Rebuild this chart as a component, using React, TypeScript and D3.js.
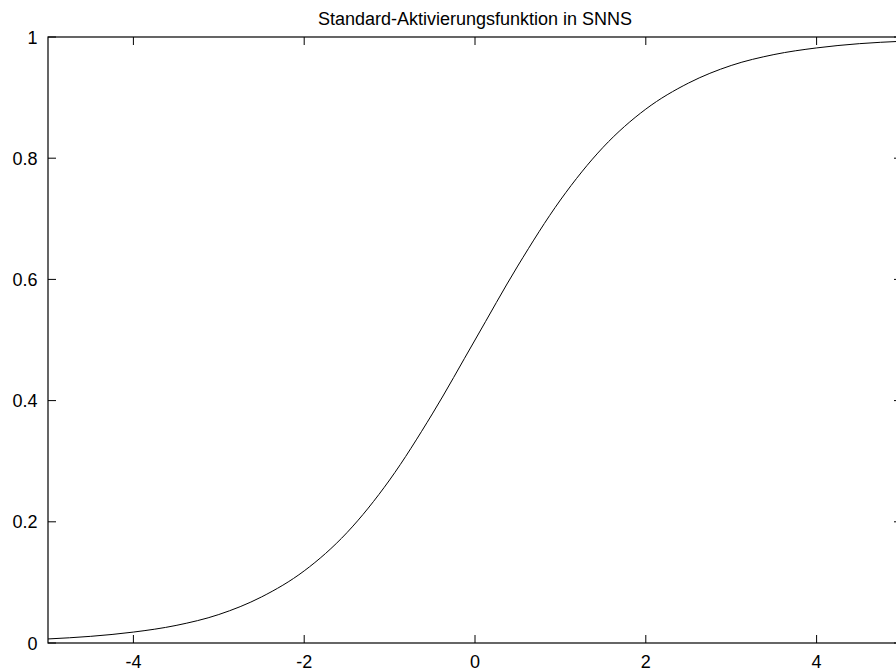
import React from "react";
import * as d3 from "d3";

// Sampled points of the SNNS standard activation (logistic) curve
const xValues = [-5, -4.5, -4, -3.5, -3, -2.5, -2, -1.5, -1, -0.5, 0, 0.5, 1, 1.5, 2, 2.5, 3, 3.5, 4, 4.5, 5];
const yValues = [0.0067, 0.011, 0.018, 0.029, 0.047, 0.076, 0.119, 0.182, 0.269, 0.378, 0.5, 0.622, 0.731, 0.818, 0.881, 0.924, 0.953, 0.971, 0.982, 0.989, 0.993];

const xTicks = [-4, -2, 0, 2, 4];
const yTicks = [0, 0.2, 0.4, 0.6, 0.8, 1];
const yTickLabels = ["0", "0.2", "0.4", "0.6", "0.8", "1"];
const title = "Standard-Aktivierungsfunktion in SNNS";

const W = 896;
const H = 672;
const left = 48;
const right = 902;
const top = 37;
const bottom = 643;
const tickLen = 8;
const font = "'Liberation Sans', Arial, Helvetica, sans-serif";
const fontSize = 18;

export default function App() {
  const x = d3.scaleLinear().domain([-5, 5]).range([left, right]);
  const y = d3.scaleLinear().domain([0, 1]).range([bottom, top]);

  const points: [number, number][] = xValues.map((v, i) => [v, yValues[i]]);
  const line = d3
    .line<[number, number]>()
    .x((d) => x(d[0]))
    .y((d) => y(d[1]))
    .curve(d3.curveMonotoneX);

  return (
    <div style={{ position: "fixed", left: 0, top: 0 }}>
      <svg width={W} height={H} style={{ display: "block", background: "#fff" }}>
        <text
          x={(left + right) / 2}
          y={25}
          textAnchor="middle"
          fontFamily={font}
          fontSize={fontSize}
          fill="#000"
        >
          {title}
        </text>

        {/* x ticks, mirrored on top */}
        {xTicks.map((t) => (
          <g key={"x" + t}>
            <line x1={x(t)} x2={x(t)} y1={bottom} y2={bottom - tickLen} stroke="#000" strokeWidth={1} />
            <line x1={x(t)} x2={x(t)} y1={top} y2={top + tickLen} stroke="#000" strokeWidth={1} />
            <text
              x={x(t)}
              y={668}
              textAnchor="middle"
              fontFamily={font}
              fontSize={fontSize}
              fill="#000"
            >
              {String(t)}
            </text>
          </g>
        ))}

        {/* y ticks, mirrored on the right */}
        {yTicks.map((t, i) => (
          <g key={"y" + t}>
            <line x1={left} x2={left + tickLen} y1={y(t)} y2={y(t)} stroke="#000" strokeWidth={1} />
            <line x1={right} x2={right - tickLen} y1={y(t)} y2={y(t)} stroke="#000" strokeWidth={1} />
            <text
              x={37.5}
              y={y(t) + 6.5}
              textAnchor="end"
              fontFamily={font}
              fontSize={fontSize}
              fill="#000"
            >
              {yTickLabels[i]}
            </text>
          </g>
        ))}

        <rect
          x={left}
          y={top}
          width={right - left}
          height={bottom - top}
          fill="none"
          stroke="#000"
          strokeWidth={1.2}
        />

        <path d={line(points) ?? ""} fill="none" stroke="#000" strokeWidth={1} />
      </svg>
    </div>
  );
}
